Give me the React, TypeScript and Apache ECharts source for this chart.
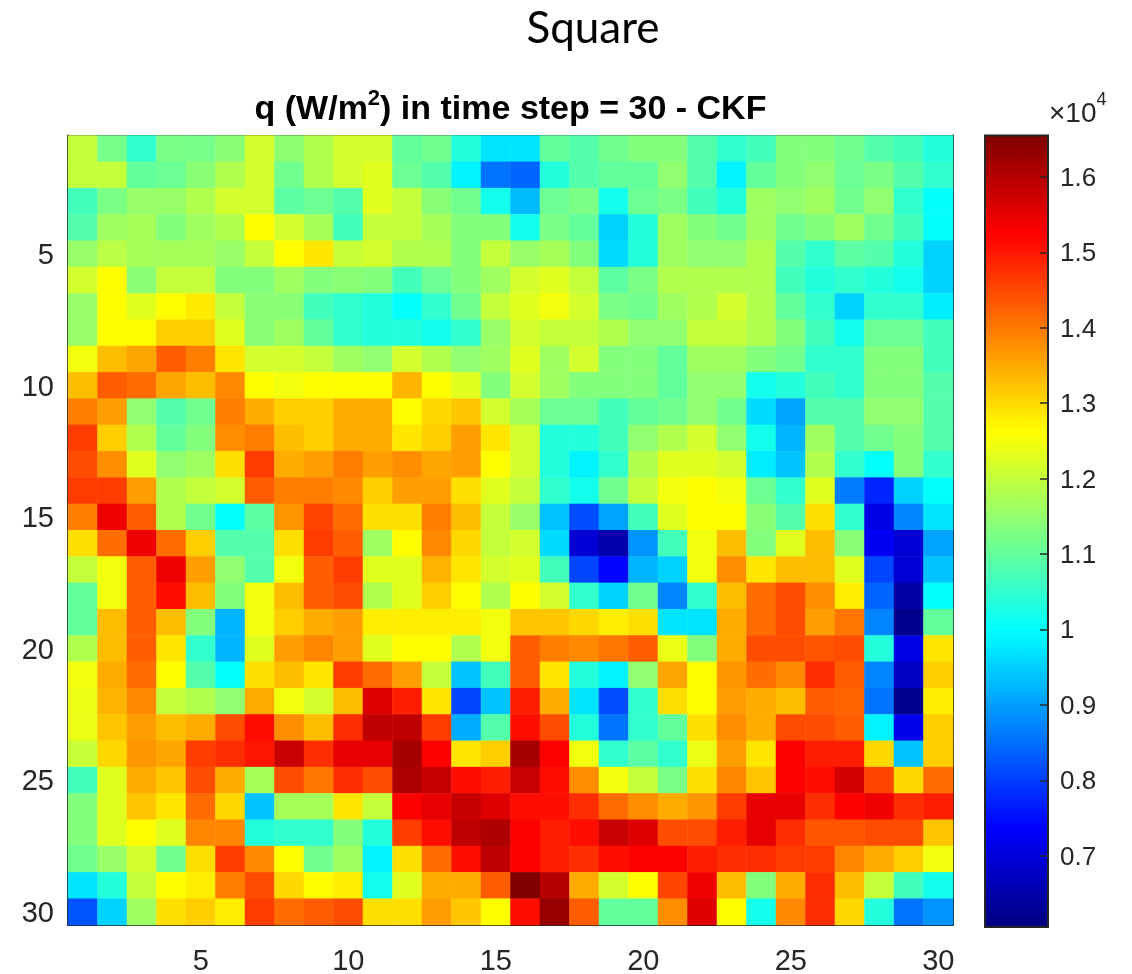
import React, { useEffect, useRef } from "react";
import * as echarts from "echarts";

// Column / row labels (1..30)
const xCategories: string[] = Array.from({ length: 30 }, (_, i) => String(i + 1));
const yCategories: string[] = Array.from({ length: 30 }, (_, i) => String(i + 1));

// Colour scale range (W/m^2)
const colorMin = 6055;
const colorMax = 16550;

// Jet colour map stops
const jetColors: string[] = [
  "#000080", "#0000FF", "#0080FF", "#00FFFF", "#80FF80",
  "#FFFF00", "#FF8000", "#FF0000", "#800000",
];

// q values, one array per row (row 1 at top), 30 columns each
const qRows: number[][] = [
  [12000,11200,10500,11250,11200,11400,12150,11450,11800,12150,12150,11000,11150,10350,9710,9710,11000,10850,11150,11330,11330,10850,10500,10680,11330,11330,11150,10850,10680,10350],
  [12000,12000,11000,11100,11400,11800,12150,11150,11800,12150,12300,11100,10850,9870,8560,8400,10350,10850,11000,11000,11480,10850,9870,11000,11330,11480,11100,11250,10850,10500],
  [10680,11250,11550,11550,11800,12150,12150,10930,11100,10850,12300,12000,11400,11150,10200,9300,11100,11250,10200,11100,11250,10680,10350,11630,11480,11630,11150,11480,10500,10030],
  [10850,11630,11700,11330,11630,11800,12640,12150,11700,10680,12000,12000,11700,11330,11330,10200,11250,11000,9540,10350,11630,11330,11150,11630,11150,11330,11630,11150,10680,10030],
  [11550,11900,11700,11700,11700,11550,12000,12640,12870,12050,12150,11800,11800,11330,12000,11550,11700,11330,9620,10350,11630,11480,11480,11800,10850,10500,10930,10850,10350,9540],
  [12150,12640,11400,12000,12000,11330,11330,11630,11330,11400,11330,10680,11100,11330,11630,12150,12300,12000,10930,11250,11800,11800,11800,11800,10680,10350,10500,10350,10200,9540],
  [11550,12640,12300,12640,12830,12000,11400,11400,10680,10500,10350,10030,10500,11150,12000,12300,12480,12150,11250,11150,11630,11800,12150,11800,11000,10500,9540,10500,10500,9790],
  [11550,12640,12640,13120,13120,12300,11400,11630,11000,10500,10350,10350,10200,10500,11550,12150,12000,12000,11800,11480,11480,12000,12000,11800,11330,10680,10200,11100,11100,10680],
  [12480,13300,13540,14290,13950,12870,12150,12150,12000,11630,11480,12150,11800,11480,11630,12300,11630,12150,11330,11330,11000,11630,11630,11330,11150,10500,10500,11330,11330,10680],
  [13300,14290,14130,13540,13300,13830,12640,12480,12640,12640,12640,13380,12640,12300,11330,12150,11630,11330,11330,11330,11000,11480,11480,10200,10350,10680,10500,11330,11330,10850],
  [13950,13620,11480,10850,11150,13950,13480,13120,13120,13480,13480,12640,13020,13200,12150,11700,11100,11100,10680,11000,11150,11480,11150,9620,9050,10850,10850,11480,11480,10850],
  [14610,13120,11800,11000,11330,13790,13950,13300,13120,13480,13480,12870,13120,13620,12870,12150,10350,10350,10680,11480,11800,12150,11480,10200,9220,11630,10850,11150,11330,10850],
  [14450,13790,12300,11480,11630,12940,14610,13480,13620,13950,13620,13790,13540,13620,12640,12150,10350,9870,10500,11800,12300,12300,12150,9790,9380,11800,10500,10030,11330,10500],
  [14610,14610,13620,11800,12000,12150,14290,13950,13950,13830,13120,13620,13620,12940,12300,12000,10500,10200,11150,12000,12480,12640,12480,11100,10500,12300,8640,7740,9540,10030],
  [13950,15415,14290,11800,11150,10030,10930,13700,14530,14130,12940,12940,13950,13300,12000,11550,9380,8150,9050,10680,12300,12640,12640,11400,10850,12940,10500,7090,8720,9710],
  [12940,14130,15415,14130,13120,10850,10850,12940,14610,14290,11630,12640,13830,13020,12000,12150,9620,6925,6510,8890,10680,12480,13300,11330,12300,13300,11400,7250,6925,9050],
  [12000,12480,14290,15415,13620,11480,10850,12480,14290,14610,12300,12300,13380,12870,12150,12300,10680,8070,7410,9220,9540,12480,13790,12870,13300,13300,12300,8070,6925,9380],
  [11000,12480,14290,15095,13300,11330,12480,13300,14290,14450,11800,12300,13120,12640,11800,12640,12150,10500,9540,11150,8720,10500,13300,14130,14450,13790,12790,8400,6430,10030],
  [11000,13300,14290,13300,11330,9220,12480,13120,13480,13620,12790,12790,12790,12790,12480,13200,13200,13020,12790,12940,9710,9710,13480,14130,14450,13620,14040,8720,6180,11000],
  [11800,13300,14290,12870,10500,9220,12300,13620,13860,13620,12300,12640,12640,11800,12480,14290,13950,13830,14040,14290,12400,11330,13480,14450,14450,14370,14450,10350,7090,12870],
  [12480,13480,14130,12640,10850,10030,12940,13300,12870,14610,14130,13620,12000,9380,10680,14290,12870,10350,9870,11480,13540,12640,13700,14130,13830,14770,14290,8720,6760,13120],
  [12400,13380,13830,12000,11800,11480,13480,12480,12150,13300,15580,14930,12870,8070,9380,14930,13480,9710,8150,10500,12940,12640,13620,13480,13300,14290,14210,8560,6180,12790],
  [12400,13200,13620,13300,13480,14450,15100,13790,13300,14770,15910,15910,14610,9140,10850,15100,14450,10350,8560,10500,11000,12940,13790,13480,14450,14450,14290,9870,7150,13120],
  [12050,13020,13700,13540,14610,14770,15020,15800,14770,15500,15500,16160,15260,12870,13120,16160,15260,12480,10500,10930,10500,12400,13620,12870,15260,14930,14930,13020,9380,13120],
  [10680,12300,13480,13200,14450,13480,11700,14450,14040,14770,14450,16080,15830,15100,14930,15800,15100,13790,12480,12000,11250,12940,13860,13200,15260,15100,15700,14530,13020,14130],
  [11330,12300,13200,12870,14130,13020,9380,11700,11700,12870,12000,15260,15500,15830,15580,15100,15100,14770,14130,13790,13480,13700,14610,15500,15500,14770,15260,15415,14770,14930],
  [11330,12300,12640,12300,13860,13860,10350,10500,10500,11330,10350,14610,15100,15910,16080,15260,14930,15100,15800,15580,14450,14450,14930,15500,14770,14370,14370,14450,14450,13200],
  [11150,11550,12150,11150,12940,14610,13830,12640,11150,11630,9870,12940,14130,15100,15910,15260,14930,14770,15100,15260,15260,14930,14770,14770,14610,14610,13860,13480,13120,12480],
  [9710,10350,12000,12640,12790,13950,14450,13020,12640,12790,10200,12300,13480,13480,14290,16570,16000,13480,12150,12640,14530,15415,13300,11330,13480,14770,13300,12000,10680,10200],
  [8230,9540,11630,12940,13120,12790,14610,14130,14290,14450,12940,12940,13620,13200,12640,15100,16320,14290,11000,11000,13790,15580,12640,10200,13830,14770,13020,10350,8560,8890],
];

const FONT = "Liberation Sans, Arial, sans-serif";
const INK = "#262626";

export default function App() {
  const ref = useRef<HTMLDivElement>(null);

  useEffect(() => {
    if (!ref.current) return;
    const chart = echarts.init(ref.current, undefined, { renderer: "svg" });

    const data: [number, number, number][] = [];
    qRows.forEach((row, r) => row.forEach((v, c) => data.push([c, r, v])));

    const every5 = (idx: number) => (idx + 1) % 5 === 0;
    const plot = { left: 68, top: 135.5, width: 885, height: 791.5 };
    const bar = { left: 985, top: 135.5, width: 63, height: 791.5 };

    const catAxisCommon = {
      type: "category" as const,
      gridIndex: 0,
      boundaryGap: true,
      axisLine: { show: true, lineStyle: { color: INK, width: 2 } },
      axisTick: {
        show: true,
        inside: true,
        length: 9,
        alignWithLabel: true,
        interval: every5,
        lineStyle: { color: INK, width: 1.5 },
      },
      splitLine: { show: false },
    };

    chart.setOption({
      animation: false,
      textStyle: { fontFamily: FONT },
      grid: [
        { ...plot, containLabel: false },
        { ...bar, show: true, borderColor: INK, borderWidth: 2, backgroundColor: "transparent", z: 10 },
      ],
      xAxis: [
        {
          ...catAxisCommon,
          data: xCategories,
          position: "bottom",
          axisLabel: { interval: every5, fontSize: 29, color: INK, margin: 20, fontFamily: FONT },
        },
        {
          ...catAxisCommon,
          data: xCategories,
          position: "top",
          axisLabel: { show: false },
        },
        { type: "value", gridIndex: 1, show: false, min: 0, max: 1 },
      ],
      yAxis: [
        {
          ...catAxisCommon,
          data: yCategories,
          inverse: true,
          position: "left",
          axisLabel: { interval: every5, fontSize: 29, color: INK, margin: 14, fontFamily: FONT },
        },
        {
          ...catAxisCommon,
          data: yCategories,
          inverse: true,
          position: "right",
          axisLabel: { show: false },
        },
        {
          type: "value",
          gridIndex: 1,
          position: "right",
          min: colorMin,
          max: colorMax,
          splitNumber: 10,
          minInterval: 1000,
          maxInterval: 1000,
          axisLine: { show: false, onZero: false },
          splitLine: { show: false },
          axisTick: { show: true, inside: true, length: 8, lineStyle: { color: INK, width: 1.5 } },
          axisLabel: {
            show: true,
            showMinLabel: false,
            showMaxLabel: false,
            margin: 12,
            fontSize: 26,
            color: INK,
            fontFamily: FONT,
            formatter: (v: number) => String(Math.round(v / 1000) / 10),
          },
          z: 11,
        },
      ],
      visualMap: {
        type: "continuous",
        show: true,
        min: colorMin,
        max: colorMax,
        calculable: false,
        orient: "vertical",
        left: bar.left,
        top: bar.top,
        itemWidth: bar.width,
        itemHeight: bar.height,
        padding: 0,
        text: ["", ""],
        showLabel: false,
        hoverLink: false,
        inRange: { color: jetColors },
        seriesIndex: 0,
      },
      series: [
        {
          type: "heatmap",
          xAxisIndex: 0,
          yAxisIndex: 0,
          data,
          progressive: 0,
          itemStyle: { borderWidth: 0 },
          emphasis: { disabled: true },
        },
      ],
      graphic: [
        {
          type: "text",
          x: 593,
          y: 4,
          style: {
            text: "Square",
            fill: "#000",
            font: "44px Lato, 'Open Sans', sans-serif",
            align: "center",
            verticalAlign: "top",
          },
        },
        {
          type: "text",
          x: plot.left + plot.width / 2,
          y: 76,
          style: {
            text: "{a|q (W/m}{s|2}{a|) in time step = 30 - CKF}",
            align: "center",
            verticalAlign: "top",
            fill: "#000",
            rich: {
              a: { fontSize: 34, fontWeight: "bold", fontFamily: FONT, lineHeight: 48, verticalAlign: "bottom", fill: "#000" },
              s: { fontSize: 22, fontWeight: "bold", fontFamily: FONT, lineHeight: 22, verticalAlign: "top", padding: [10, 0, 0, 0], fill: "#000" },
            },
          },
        },
        {
          type: "text",
          x: 1049,
          y: 90,
          style: {
            text: "{a|×10}{s|4}",
            align: "left",
            verticalAlign: "top",
            fill: INK,
            rich: {
              a: { fontSize: 28, fontFamily: FONT, lineHeight: 36, verticalAlign: "bottom", fill: INK },
              s: { fontSize: 18, fontFamily: FONT, lineHeight: 18, verticalAlign: "top", fill: INK },
            },
          },
        },
      ],
    });

    return () => chart.dispose();
  }, []);

  return (
    <div
      ref={ref}
      style={{ position: "fixed", left: 0, top: 0, width: 1132, height: 974 }}
    />
  );
}
